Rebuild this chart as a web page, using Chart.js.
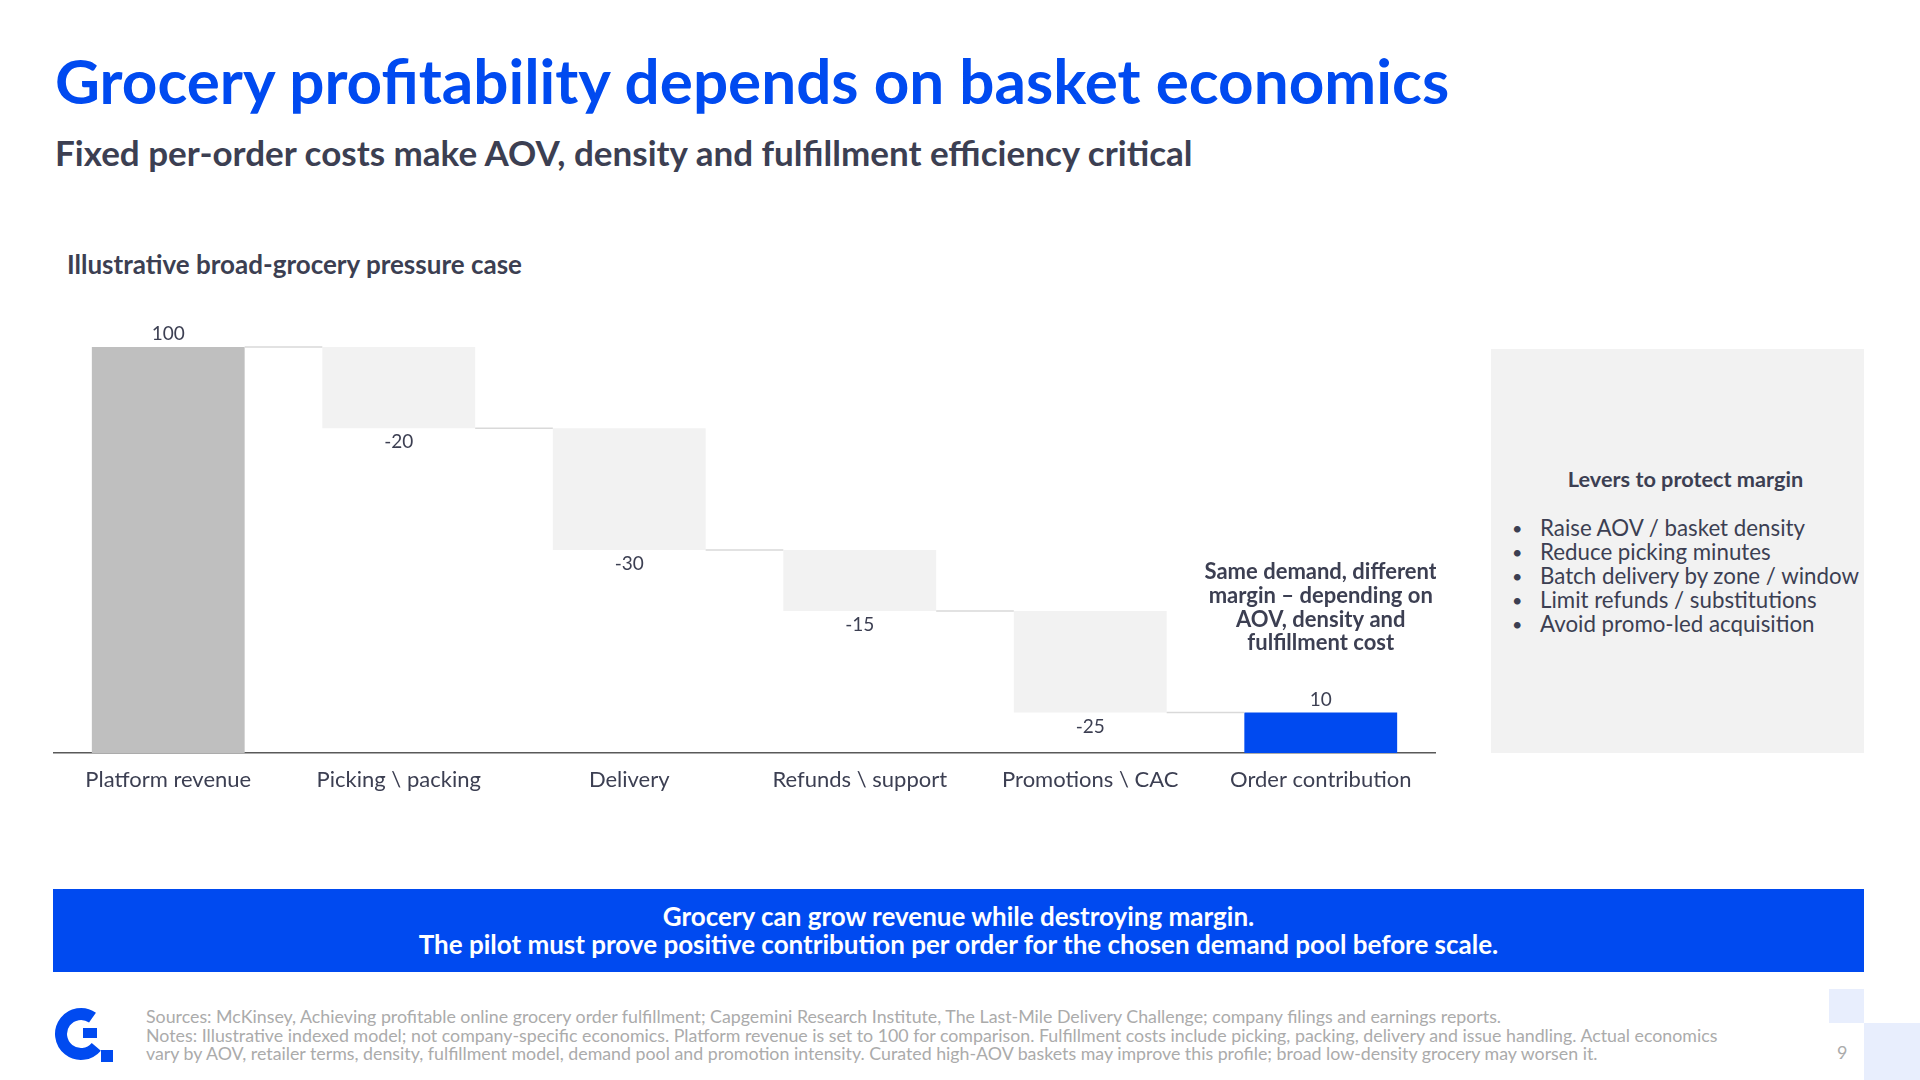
<!DOCTYPE html>
<html>
<head>
<meta charset="utf-8">
<script src="https://cdn.jsdelivr.net/npm/chart.js@4.4.0/dist/chart.umd.min.js"></script>
<style>
  body { margin: 0; width: 1920px; height: 1080px; background: #fff; font-family: Lato, sans-serif; color: #3c3f52; position: relative; overflow: hidden; }
  .abs { position: absolute; white-space: nowrap; line-height: 1; }
  #title { left: 55px; top: 49px; font-size: 62px; font-weight: 700; color: #004af0; }
  #subtitle { left: 55px; top: 135px; font-size: 35px; font-weight: 700; }
  #chartTitle { left: 67px; top: 251px; font-size: 26px; font-weight: 700; }
  #chartBox { position: absolute; left: 53px; top: 290px; width: 1383px; height: 513px; }
  #panel { position: absolute; left: 1491px; top: 349px; width: 373px; height: 404px; background: #f2f2f2; }
  #panelHead { position: absolute; left: 8px; width: 373px; top: 120px; text-align: center; font-size: 21.7px; font-weight: 700; line-height: 1; }
  #levers { position: absolute; left: 21px; top: 167px; margin: 0; padding: 0; list-style: none; font-size: 22.3px; line-height: 24px; }
  #levers li { position: relative; padding-left: 28px; white-space: nowrap; }
  #levers li::before { content: "\2022"; position: absolute; left: 0; font-size: 18px; }
  #banner { position: absolute; left: 53px; top: 889px; width: 1811px; height: 83px; background: #004af0; color: #fff; text-align: center; font-weight: 700; font-size: 26px; line-height: 28px; }
  #bannerText { position: absolute; left: 0; right: 0; top: 13px; }
  #footer { left: 146px; top: 1007px; font-size: 17.8px; line-height: 18.5px; color: #ababab; }
  #pageNo { left: 1837px; top: 1043px; font-size: 18px; color: #ababab; }
  .sq { position: absolute; background: #e8eefd; }
</style>
</head>
<body>
<div id="title" class="abs">Grocery profitability depends on basket economics</div>
<div id="subtitle" class="abs">Fixed per-order costs make AOV, density and fulfillment efficiency critical</div>
<div id="chartTitle" class="abs">Illustrative broad-grocery pressure case</div>

<div id="chartBox"><canvas id="myChart"></canvas></div>

<div id="panel">
  <div id="panelHead">Levers to protect margin</div>
  <ul id="levers"></ul>
</div>

<div id="banner"><div id="bannerText">Grocery can grow revenue while destroying margin.<br>The pilot must prove positive contribution per order for the chosen demand pool before scale.</div></div>

<svg style="position:absolute;left:55px;top:1006px" width="58" height="56" viewBox="0 0 58 56">
  <path d="M37.5 11.6 A20 20 0 1 0 41.3 40.9" fill="none" stroke="#004af0" stroke-width="12"/>
  <rect x="28" y="22" width="14" height="10" fill="#004af0"/>
  <rect x="46" y="44" width="12" height="12" fill="#004af0"/>
</svg>
<div id="footer" class="abs">Sources: McKinsey, Achieving profitable online grocery order fulfillment; Capgemini Research Institute, The Last-Mile Delivery Challenge; company filings and earnings reports.<br>Notes: Illustrative indexed model; not company-specific economics. Platform revenue is set to 100 for comparison. Fulfillment costs include picking, packing, delivery and issue handling. Actual economics<br>vary by AOV, retailer terms, density, fulfillment model, demand pool and promotion intensity. Curated high-AOV baskets may improve this profile; broad low-density grocery may worsen it.</div>
<div id="pageNo" class="abs">9</div>
<div class="sq" style="left:1829px;top:989px;width:35px;height:34px"></div>
<div class="sq" style="left:1864px;top:1023px;width:56px;height:57px"></div>

<script>
// waterfall data
const categories = ['Platform revenue', 'Picking \\ packing', 'Delivery', 'Refunds \\ support', 'Promotions \\ CAC', 'Order contribution'];
const steps = [100, -20, -30, -15, -25, 10];
const stepTypes = ['total', 'delta', 'delta', 'delta', 'delta', 'total'];
const valueLabels = ['100', '-20', '-30', '-15', '-25', '10'];
const noteLines = ['Same demand, different', 'margin \u2013 depending on', 'AOV, density and', 'fulfillment cost'];
const levers = ['Raise AOV / basket density', 'Reduce picking minutes', 'Batch delivery by zone / window', 'Limit refunds / substitutions', 'Avoid promo-led acquisition'];

document.getElementById('levers').innerHTML = levers.map(t => '<li>' + t + '</li>').join('');

// floating ranges and the level each bar ends on
let running = 0;
const levels = [];
const ranges = steps.map((v, i) => {
    if (stepTypes[i] === 'total') {
        running = v;
        levels.push(running);
        return [0, v];
    }
    const start = running;
    running += v;
    levels.push(running);
    return [running, start];
});

const barColors = stepTypes.map((t, i) => {
    if (t === 'delta') return '#f2f2f2';
    return i === 0 ? '#bfbfbf' : '#004af0';
});

const waterfallExtras = {
    id: 'waterfallExtras',
    afterDatasetsDraw(chart) {
        const ctx = chart.ctx;
        const meta = chart.getDatasetMeta(0);
        const y = chart.scales.y;
        ctx.save();

        // connector lines between bars
        ctx.strokeStyle = '#d9d9d9';
        ctx.lineWidth = 1.5;
        for (let i = 0; i < meta.data.length - 1; i++) {
            const a = meta.data[i], b = meta.data[i + 1];
            const py = y.getPixelForValue(levels[i]);
            ctx.beginPath();
            ctx.moveTo(a.x + a.width / 2, py);
            ctx.lineTo(b.x - b.width / 2, py);
            ctx.stroke();
        }

        // value labels
        ctx.fillStyle = '#3c3f52';
        ctx.textAlign = 'center';
        ctx.textBaseline = 'middle';
        ctx.font = '19px Lato';
        meta.data.forEach((bar, i) => {
            const top = Math.min(bar.y, bar.base);
            const bottom = Math.max(bar.y, bar.base);
            if (steps[i] >= 0) ctx.fillText(valueLabels[i], bar.x, top - 13);
            else ctx.fillText(valueLabels[i], bar.x, bottom + 14);
        });

        // note above the last bar
        const last = meta.data[meta.data.length - 1];
        const lastTop = Math.min(last.y, last.base);
        ctx.font = 'bold 22px Lato';
        noteLines.forEach((line, i) => {
            ctx.fillText(line, last.x, lastTop - 69 - (noteLines.length - 1 - i) * 23.7);
        });
        ctx.restore();
    }
};

const ctx = document.getElementById('myChart').getContext('2d');
const chart = new Chart(ctx, {
    type: 'bar',
    data: {
        labels: categories,
        datasets: [{
            data: ranges,
            backgroundColor: barColors,
            borderWidth: 0,
            barPercentage: 0.663,
            categoryPercentage: 1
        }]
    },
    options: {
        responsive: true,
        maintainAspectRatio: false,
        animation: false,
        layout: { padding: { top: 57, left: 0, right: 0, bottom: 0 } },
        plugins: { legend: { display: false }, tooltip: { enabled: false } },
        scales: {
            x: {
                grid: { display: false, drawTicks: false },
                border: { display: true, color: '#595959', width: 1.5 },
                ticks: { color: '#3c3f52', font: { family: 'Lato', size: 22 }, padding: 14, maxRotation: 0 },
                afterFit: (scale) => { scale.height = 50; }
            },
            y: {
                display: false,
                min: 0,
                max: 100
            }
        }
    },
    plugins: [waterfallExtras]
});
</script>
</body>
</html>
